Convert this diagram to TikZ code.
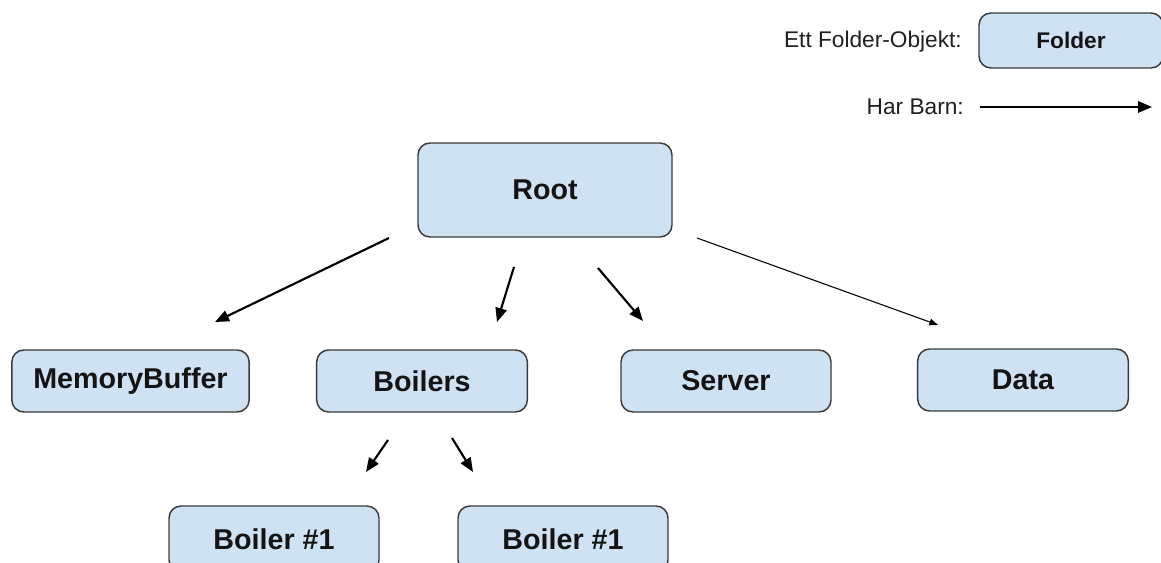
\documentclass[tikz,border=0pt]{standalone}
\usepackage{fontspec}
\setmainfont{Liberation Sans}
\usetikzlibrary{arrows.meta}
\definecolor{folderfill}{HTML}{CFE2F3}
\definecolor{folderline}{HTML}{3A3A3A}
\tikzset{
  folder/.style={draw=folderline, line width=1.1pt, fill=folderfill,
    rounded corners=9pt, inner sep=0pt, align=center,
    font=\bfseries\fontsize{21.5}{24}\selectfont, text=black!92},
  legendtext/.style={anchor=east, inner sep=0pt,
    font=\fontsize{17}{20}\selectfont, text=black!88},
  child/.style={line width=1.6pt, -{Triangle[length=10.5pt,width=8.5pt]}},
  thinchild/.style={line width=0.8pt, -{Triangle[length=6.5pt,width=5pt]}}
}
\begin{document}
\begin{tikzpicture}[x=0.75pt, y=-0.75pt]
  \useasboundingbox (0,0) rectangle (1161,563);

  % legend
  \node[legendtext] (legfoldertxt) at (962,42) {Ett Folder-Objekt:};
  \node[folder, minimum width=138pt, minimum height=41.25pt,
        font=\bfseries\fontsize{17}{20}\selectfont] (legfolder) at (1071,40.5) {Folder};
  \node[legendtext] (legarrowtxt) at (964,107) {Har Barn:};
  \coordinate (legA) at (980,107);
  \coordinate (legB) at (1152,107);
  \draw[child] (legA) -- (legB);

  % folder tree
  \node[folder, minimum width=190.5pt, minimum height=70.5pt] (root) at (545,190) {Root};

  \node[folder, minimum width=178pt, minimum height=46.5pt] (mb) at (130.5,381) {MemoryBuffer};
  \node[folder, minimum width=158pt, minimum height=46.5pt] (boilers) at (422,381) {Boilers};
  \node[folder, minimum width=157.5pt, minimum height=46.5pt] (server) at (726,381) {Server};
  \node[folder, minimum width=158pt, minimum height=46.5pt] (data) at (1023,380) {Data};

  \node[folder, minimum width=157.5pt, minimum height=49.5pt] (boilerA) at (274,539) {Boiler \#1};
  \node[folder, minimum width=157.5pt, minimum height=49.5pt] (boilerB) at (563,539) {Boiler \#1};

  % child links
  \coordinate (r1) at (389,238);  \coordinate (m1) at (215,322);
  \coordinate (r2) at (514,267);  \coordinate (b1) at (497,322);
  \coordinate (r3) at (598,268);  \coordinate (s1) at (643,321);
  \coordinate (r4) at (697,238);  \coordinate (d1) at (938,325);
  \coordinate (p1) at (388,440);  \coordinate (q1) at (366,472);
  \coordinate (p2) at (452,438);  \coordinate (q2) at (473,472);

  \draw[child] (r1) -- (m1);
  \draw[child] (r2) -- (b1);
  \draw[child] (r3) -- (s1);
  \draw[thinchild] (r4) -- (d1);
  \draw[child] (p1) -- (q1);
  \draw[child] (p2) -- (q2);
\end{tikzpicture}
\end{document}
